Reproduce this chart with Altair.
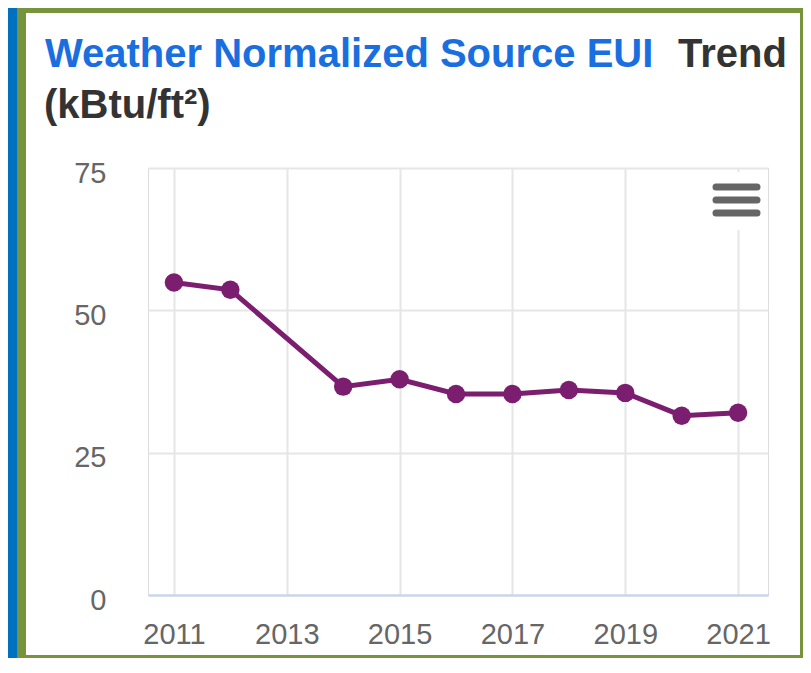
import altair as alt
import pandas as pd

# ---- data ----
years = [2011, 2012, 2014, 2015, 2016, 2017, 2018, 2019, 2020, 2021]
eui = [54.9, 53.6, 36.6, 37.9, 35.3, 35.3, 36.0, 35.5, 31.5, 32.0]
x_ticks = [2011, 2013, 2015, 2017, 2019, 2021]
y_ticks = [0, 25, 50, 75]
title_blue = "Weather Normalized Source EUI"
title_black = "Trend"
title_line2 = "(kBtu/ft²)"

df = pd.DataFrame({"Year": years, "EUI": eui})
one = pd.DataFrame({"k": [0]})

FONT = "Liberation Sans"
PURPLE = "#7b1e6f"
GREEN = "#77933c"
BLUE = "#0070c0"

x_enc = alt.X(
    "Year:Q",
    scale=alt.Scale(domain=[2010.54, 2021.53], nice=False, zero=False),
    axis=alt.Axis(
        values=x_ticks, format="d", title=None, ticks=False,
        grid=True, gridColor="#e6e6e6", gridWidth=2,
        domain=True, domainColor="#ccd6eb", domainWidth=2,
        labelFont=FONT, labelFontSize=29, labelColor="#666666",
        labelPadding=25, labelBaseline="top",
    ),
)
y_enc = alt.Y(
    "EUI:Q",
    scale=alt.Scale(domain=[0, 75], nice=False),
    axis=alt.Axis(
        values=y_ticks, title=None, ticks=False, domain=False,
        grid=True, gridWidth=2,
        gridColor={"condition": {"test": "datum.value === 0", "value": "#ccd6eb"}, "value": "#e6e6e6"},
        labelFont=FONT, labelFontSize=29, labelColor="#666666",
        labelPadding=42, labelOffset=5,
    ),
)

line = alt.Chart(df).mark_line(color=PURPLE, strokeWidth=5).encode(x=x_enc, y=y_enc)
pts = alt.Chart(df).mark_circle(color=PURPLE, size=340, opacity=1).encode(x="Year:Q", y="EUI:Q")

# frame (decoration)
def rect(x, x2, y, y2, color):
    return alt.Chart(one).mark_rect(color=color).encode(
        x=alt.value(x), x2=alt.value(x2), y=alt.value(y), y2=alt.value(y2)
    )

frame = (
    rect(-140, -131, -160, 490, BLUE)
    + rect(-131, -122, -160, 490, GREEN)
    + rect(-131, 655, -160, -155, GREEN)
    + rect(652, 655, -160, 490, GREEN)
    + rect(-131, 655, 487, 490, GREEN)
)

# hamburger menu button
menu_bg = rect(555, 620, 4, 62, "white")
def bar(y):
    return alt.Chart(one).mark_rule(color="#666666", strokeWidth=7, strokeCap="round").encode(
        x=alt.value(568), x2=alt.value(609), y=alt.value(y)
    )
menu = menu_bg + bar(19) + bar(32) + bar(45)

def txt(s, x, y, color):
    return alt.Chart(one).mark_text(
        align="left", baseline="alphabetic", font=FONT, fontSize=40,
        fontWeight="bold", color=color,
    ).encode(x=alt.value(x), y=alt.value(y), text=alt.value(s))

titles = (
    txt(title_blue, -103, -101, "#1a6fe0")
    + txt(title_black, 530, -101, "#333333")
    + txt(title_line2, -104, -50, "#333333")
)

chart = alt.layer(line, pts, menu, frame, titles).properties(
    width=620, height=427,
    autosize=alt.AutoSizeParams(type="none"),
    padding={"left": 140, "top": 160, "right": 35, "bottom": 63},
).configure_view(stroke=None).configure(background="white")

chart.save("out.html", embed_options={"renderer": "svg", "actions": False})
